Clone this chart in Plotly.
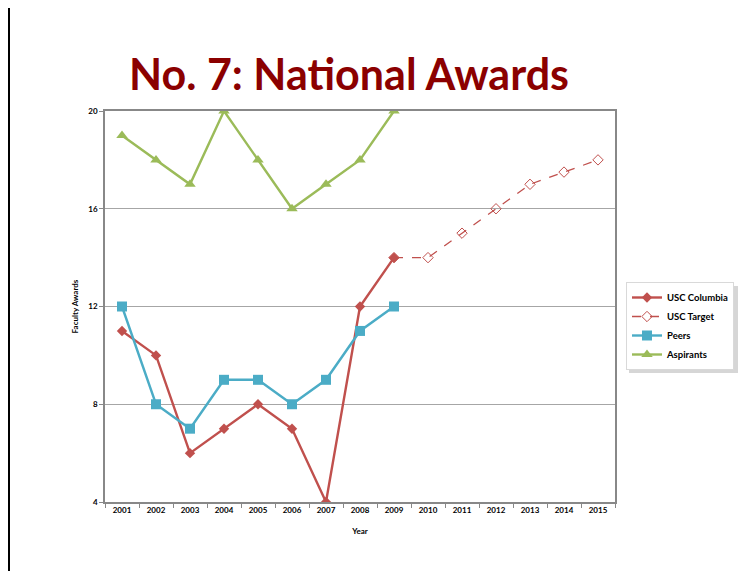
"""No. 7: National Awards - faculty awards line chart"""
import plotly.graph_objects as go

years = [str(y) for y in range(2001, 2016)]
usc_years = years[:9]
usc_columbia = [11, 10, 6, 7, 8, 7, 4, 12, 14]
target_years = years[8:]
usc_target = [14, 14, 15, 16, 17, 17.5, 18]
peers = [12, 8, 7, 9, 9, 8, 9, 11, 12]
aspirants = [19, 18, 17, 20, 18, 16, 17, 18, 20]
y_ticks = [4, 8, 12, 16, 20]

RED = '#C0504D'
BLUE = '#4BACC6'
GREEN = '#9BBB59'
FONT = 'Lato'

# page body has an 8px margin, so the figure is drawn 8px in from the corner
OFF = 8
W, H = 753 - OFF, 571 - OFF
L, R, T, B = 105 - OFF, 615 - OFF, 111 - OFF, 502 - OFF


def px(x):
    return (x - OFF - L) / (R - L)


def py(y):
    return (B - (y - OFF)) / (B - T)


fig = go.Figure()

fig.add_trace(go.Scatter(
    x=target_years, y=usc_target, mode='lines+markers', name='USC Target',
    line=dict(color=RED, width=1.3, dash='dash'),
    marker=dict(symbol='diamond-open', size=8, color=RED, line=dict(width=1))
))
fig.add_trace(go.Scatter(
    x=usc_years, y=usc_columbia, mode='lines+markers', name='USC Columbia',
    line=dict(color=RED, width=2.4),
    marker=dict(symbol='diamond', size=8, color=RED)
))
fig.add_trace(go.Scatter(
    x=usc_years, y=peers, mode='lines+markers', name='Peers',
    line=dict(color=BLUE, width=2.4),
    marker=dict(symbol='square', size=10, color=BLUE)
))
fig.add_trace(go.Scatter(
    x=usc_years, y=aspirants, mode='lines+markers', name='Aspirants',
    line=dict(color=GREEN, width=2.4),
    marker=dict(symbol='triangle-up', size=10, color=GREEN)
))

LEG_X, LEG_Y = 626, 282

# slide border (left edge) and legend shadow
shapes = [
    dict(type='line', xref='paper', yref='paper',
         x0=px(8.5), x1=px(8.5), y0=py(3), y1=py(580),
         line=dict(color='black', width=3)),
    dict(type='rect', xref='paper', yref='paper',
         x0=px(LEG_X + 3), x1=px(LEG_X + 112), y0=py(LEG_Y + 4), y1=py(LEG_Y + 91),
         fillcolor='rgba(0,0,0,0.16)', line=dict(width=0), layer='below'),
]

fig.update_layout(
    width=W, height=H,
    margin=dict(l=L, r=W - R, t=T, b=H - B),
    plot_bgcolor='white', paper_bgcolor='white',
    font=dict(family=FONT, color='black'),
    title=dict(text='<b>No. 7: National Awards</b>', xref='container',
               x=(349 - OFF) / W, xanchor='center',
               y=1 - (75 - OFF) / H, yanchor='middle',
               font=dict(family=FONT, size=43, color='#8B0000')),
    xaxis=dict(
        type='category', categoryorder='array', categoryarray=years,
        range=[-0.5, 14.5], tickson='boundaries', ticks='outside', ticklen=4,
        tickcolor='#888', showline=True, linecolor='#888', linewidth=1.5,
        mirror=True, showgrid=False,
        tickfont=dict(size=8, family=FONT, weight='bold'),
        title=dict(text='<b>Year</b>', font=dict(size=8), standoff=14),
    ),
    yaxis=dict(
        range=[4, 20], tickvals=y_ticks, ticks='outside', ticklen=4,
        tickcolor='#888', showline=True, linecolor='#888', linewidth=1.5,
        mirror=True, showgrid=True, gridcolor='#A6A6A6', gridwidth=1,
        zeroline=False,
        tickfont=dict(size=8, family=FONT, weight='bold'),
        title=dict(text='<b>Faculty Awards</b>', font=dict(size=8), standoff=9),
    ),
    legend=dict(
        x=px(LEG_X), y=py(LEG_Y), xanchor='left', yanchor='top',
        bgcolor='white', bordercolor='#D9D9D9', borderwidth=1,
        traceorder='normal', font=dict(size=9.5, family=FONT, weight='bold'),
        itemwidth=30, tracegroupgap=0,
    ),
    shapes=shapes,
    showlegend=True,
)

# legend order: USC Columbia, USC Target, Peers, Aspirants
fig.data[0].legendrank = 2
fig.data[1].legendrank = 1
fig.data[2].legendrank = 3
fig.data[3].legendrank = 4

fig.write_html("out.html")
